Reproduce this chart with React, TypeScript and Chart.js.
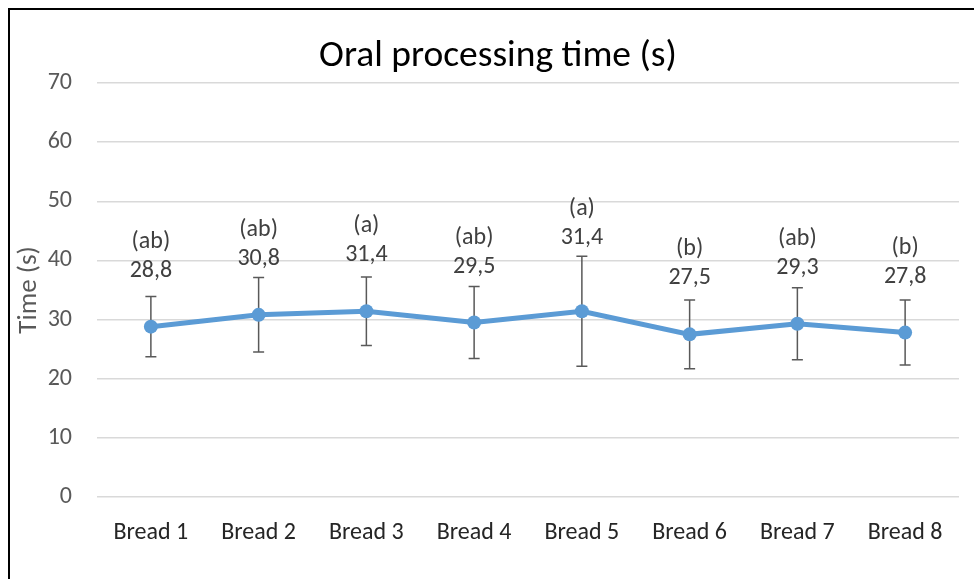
import React, { useEffect, useRef } from "react";
import { Chart, registerables } from "chart.js";

Chart.register(...registerables);

const categories = ["Bread 1", "Bread 2", "Bread 3", "Bread 4", "Bread 5", "Bread 6", "Bread 7", "Bread 8"];
const meanTimes = [28.8, 30.8, 31.4, 29.5, 31.4, 27.5, 29.3, 27.8];
const sdTimes = [5.1, 6.3, 5.8, 6.1, 9.3, 5.8, 6.1, 5.5];
const groupLetters = ["ab", "ab", "a", "ab", "a", "b", "ab", "b"];
const yTicks = [0, 10, 20, 30, 40, 50, 60, 70];
const chartTitle = "Oral processing time (s)";
const yAxisTitle = "Time (s)";

const FONT = "Carlito, Calibri, Lato, sans-serif";

const overlayPlugin = {
  id: "overlay",
  beforeDatasetsDraw(chart: any) {
    const ctx = chart.ctx;
    const x = chart.scales.x;
    const y = chart.scales.y;
    ctx.save();
    ctx.strokeStyle = "#595959";
    ctx.lineWidth = 1.5;
    meanTimes.forEach((m, i) => {
      const px = x.getPixelForValue(i);
      const top = y.getPixelForValue(m + sdTimes[i]);
      const bot = y.getPixelForValue(m - sdTimes[i]);
      ctx.beginPath();
      ctx.moveTo(px, top);
      ctx.lineTo(px, bot);
      ctx.moveTo(px - 5.5, top);
      ctx.lineTo(px + 5.5, top);
      ctx.moveTo(px - 5.5, bot);
      ctx.lineTo(px + 5.5, bot);
      ctx.stroke();
    });
    ctx.restore();
  },
  afterDatasetsDraw(chart: any) {
    const ctx = chart.ctx;
    const x = chart.scales.x;
    const y = chart.scales.y;
    const area = chart.chartArea;
    ctx.save();
    // data labels
    ctx.fillStyle = "#404040";
    ctx.font = `24px ${FONT}`;
    ctx.textAlign = "center";
    ctx.textBaseline = "middle";
    meanTimes.forEach((m, i) => {
      const px = x.getPixelForValue(i);
      const py = y.getPixelForValue(m);
      const top = y.getPixelForValue(m + sdTimes[i]);
      const vy = Math.min(py - 56, top - 18);
      ctx.fillText(m.toFixed(1).replace(".", ","), px, vy);
      ctx.fillText(`(${groupLetters[i]})`, px, vy - 29);
    });
    // title
    ctx.fillStyle = "#000000";
    ctx.font = `37.5px ${FONT}`;
    ctx.fillText(chartTitle, 488, 47);
    // y axis title
    ctx.fillStyle = "#595959";
    ctx.font = `27px ${FONT}`;
    ctx.translate(19, (area.top + area.bottom) / 2);
    ctx.rotate(-Math.PI / 2);
    ctx.fillText(yAxisTitle, 0, 0);
    ctx.restore();
  },
};

export default function App() {
  const ref = useRef<HTMLCanvasElement | null>(null);
  useEffect(() => {
    if (!ref.current) return;
    const chart = new Chart(ref.current, {
      type: "line",
      data: {
        labels: categories,
        datasets: [
          {
            data: meanTimes,
            borderColor: "#5B9BD5",
            backgroundColor: "#5B9BD5",
            borderWidth: 5,
            pointRadius: 7,
            pointBorderWidth: 0,
            pointBackgroundColor: "#5B9BD5",
            tension: 0,
          },
        ],
      },
      options: {
        responsive: false,
        animation: false,
        layout: { padding: { left: 0, top: 73, right: 15, bottom: 0 } },
        plugins: { legend: { display: false }, title: { display: false }, tooltip: { enabled: false } },
        scales: {
          x: {
            offset: true,
            grid: { display: false, drawTicks: false },
            border: { display: false },
            ticks: { color: "#262626", font: { family: FONT, size: 24 }, padding: 22, maxRotation: 0, autoSkip: false },
            afterFit: (s: any) => {
              s.height = 82;
            },
          },
          y: {
            min: 0,
            max: 70,
            afterBuildTicks: (s: any) => {
              s.ticks = yTicks.map((v) => ({ value: v }));
            },
            grid: { color: "#D9D9D9", lineWidth: 1.5, drawTicks: false },
            border: { display: false },
            ticks: { color: "#595959", font: { family: FONT, size: 24 }, padding: 25 },
            afterFit: (s: any) => {
              s.width = 87;
            },
          },
        },
      },
      plugins: [overlayPlugin],
    });
    return () => chart.destroy();
  }, []);
  return (
    <div
      style={{
        position: "fixed",
        left: 8,
        top: 8,
        width: 966,
        height: 571,
        boxSizing: "border-box",
        borderLeft: "2px solid #000",
        borderTop: "2px solid #000",
        background: "#fff",
        overflow: "hidden",
      }}
    >
      <canvas ref={ref} width={964} height={569} style={{ display: "block", width: 964, height: 569 }} />
    </div>
  );
}
